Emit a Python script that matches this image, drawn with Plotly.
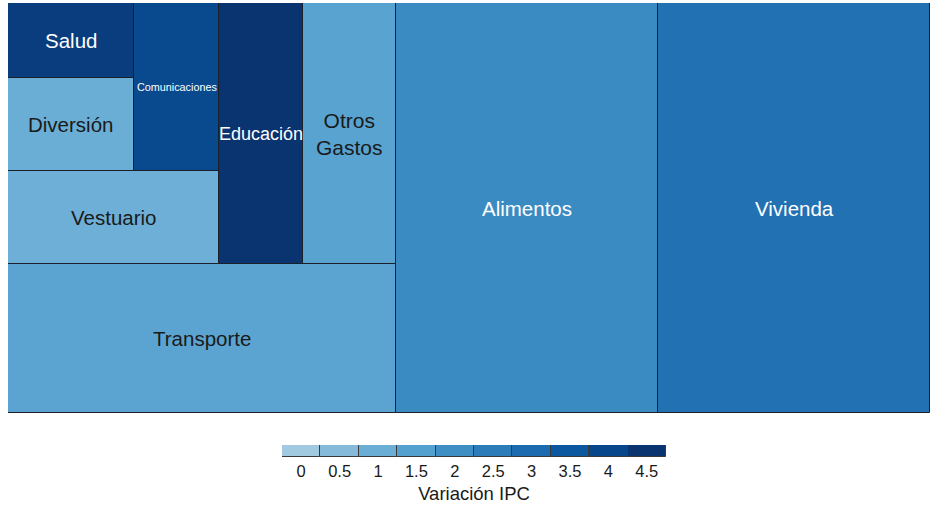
import plotly.graph_objects as go
from plotly.colors import sample_colorscale

# ---- data ----
categories = ["Vivienda", "Alimentos", "Transporte", "Otros Gastos", "Educación",
              "Vestuario", "Comunicaciones", "Diversión", "Salud"]
weights = [29.5, 28.4, 15.3, 6.4, 5.8, 5.2, 3.8, 3.1, 2.5]
variacion = [2.8, 2.1, 1.35, 1.4, 4.5, 0.95, 3.9, 1.0, 4.25]
label_sizes = [20.5, 20.5, 20.5, 21, 18, 20.5, 10.8, 20.5, 20.5]

legend_values = [0, 0.5, 1, 1.5, 2, 2.5, 3, 3.5, 4, 4.5]
legend_labels = ["0", "0.5", "1", "1.5", "2", "2.5", "3", "3.5", "4", "4.5"]
legend_colors = ["#a1c9e0", "#85badb", "#6aaed6", "#54a0cf", "#3f8fc5",
                 "#2c7cba", "#1c6aaf", "#0c58a0", "#08468b", "#0a3470"]

# ---- layout geometry ----
W, H = 922.0, 410.0
FONT = "Liberation Sans, Arial, sans-serif"

vmin, vmax = legend_values[0], legend_values[-1]
cscale = [[(v - vmin) / (vmax - vmin), c] for v, c in zip(legend_values, legend_colors)]


def layout_cells(ws, x0, y0, x1, y1):
    """Strip layout: each item (largest first) cuts the longer side of the
    remaining region, placed at the right (width cut) or bottom (height cut)."""
    rects = []
    remaining = float(sum(ws))
    for i, w in enumerate(ws):
        if i == len(ws) - 1:
            rects.append((x0, y0, x1, y1))
            break
        frac = w / remaining
        if (x1 - x0) >= (y1 - y0):
            cut = x1 - frac * (x1 - x0)
            rects.append((cut, y0, x1, y1))
            x1 = cut
        else:
            cut = y0 + frac * (y1 - y0)
            rects.append((x0, y0, x1, cut))
            y0 = cut
        remaining -= w
    return rects


rects = layout_cells(weights, 0.0, 0.0, W, H)
cell_colors = sample_colorscale(cscale, [(v - vmin) / (vmax - vmin) for v in variacion])

fig = go.Figure()
fig.add_trace(go.Bar(
    x=[(r[0] + r[2]) / 2 for r in rects],
    width=[r[2] - r[0] for r in rects],
    base=[r[1] for r in rects],
    y=[r[3] - r[1] for r in rects],
    marker=dict(color=cell_colors, line=dict(color="#1b1f2a", width=1)),
    hovertext=categories, hoverinfo="text",
    showlegend=False, xaxis="x", yaxis="y",
))

for name, r, v, fs in zip(categories, rects, variacion, label_sizes):
    txt = name.replace(" ", "<br>") if name == "Otros Gastos" else name
    fig.add_annotation(
        x=(r[0] + r[2]) / 2, y=(r[1] + r[3]) / 2, xref="x", yref="y",
        text=txt, showarrow=False,
        font=dict(family=FONT, size=fs, color="white" if v >= 2 else "#1a1a1a"),
    )

# legend as a bar strip
fig.add_trace(go.Bar(
    x=legend_values, y=[1] * len(legend_values), width=0.5,
    marker=dict(color=legend_colors, line=dict(color="#3a3a3a", width=1)),
    hoverinfo="skip", showlegend=False, xaxis="x2", yaxis="y2",
))

fig.update_layout(
    width=930, height=507,
    margin=dict(l=0, r=0, t=0, b=0),
    paper_bgcolor="white", plot_bgcolor="white",
    barmode="overlay", bargap=0,
    font=dict(family=FONT, color="#1a1a1a"),
    xaxis=dict(domain=[8 / 930, 1.0], range=[0, W], visible=False, fixedrange=True),
    yaxis=dict(domain=[(507 - 413) / 507, (507 - 3) / 507], range=[0, H],
               visible=False, fixedrange=True),
    xaxis2=dict(domain=[282 / 930, 666 / 930], range=[-0.25, 4.75], anchor="y2",
                tickvals=legend_values, ticktext=legend_labels,
                tickfont=dict(size=16.5, color="#1a1a1a"), ticks="",
                showgrid=False, zeroline=False, showline=False,
                ticklabelstandoff=2,
                title=dict(text="Variación IPC", font=dict(size=18.5, color="#1a1a1a"),
                           standoff=8),
                fixedrange=True),
    yaxis2=dict(domain=[(507 - 457) / 507, (507 - 445) / 507], range=[0, 1],
                anchor="x2", visible=False, fixedrange=True),
)

fig.write_html(
    "out.html",
    config={"displayModeBar": False},
    post_script="document.body.style.margin='0';document.body.style.overflow='hidden';",
)
